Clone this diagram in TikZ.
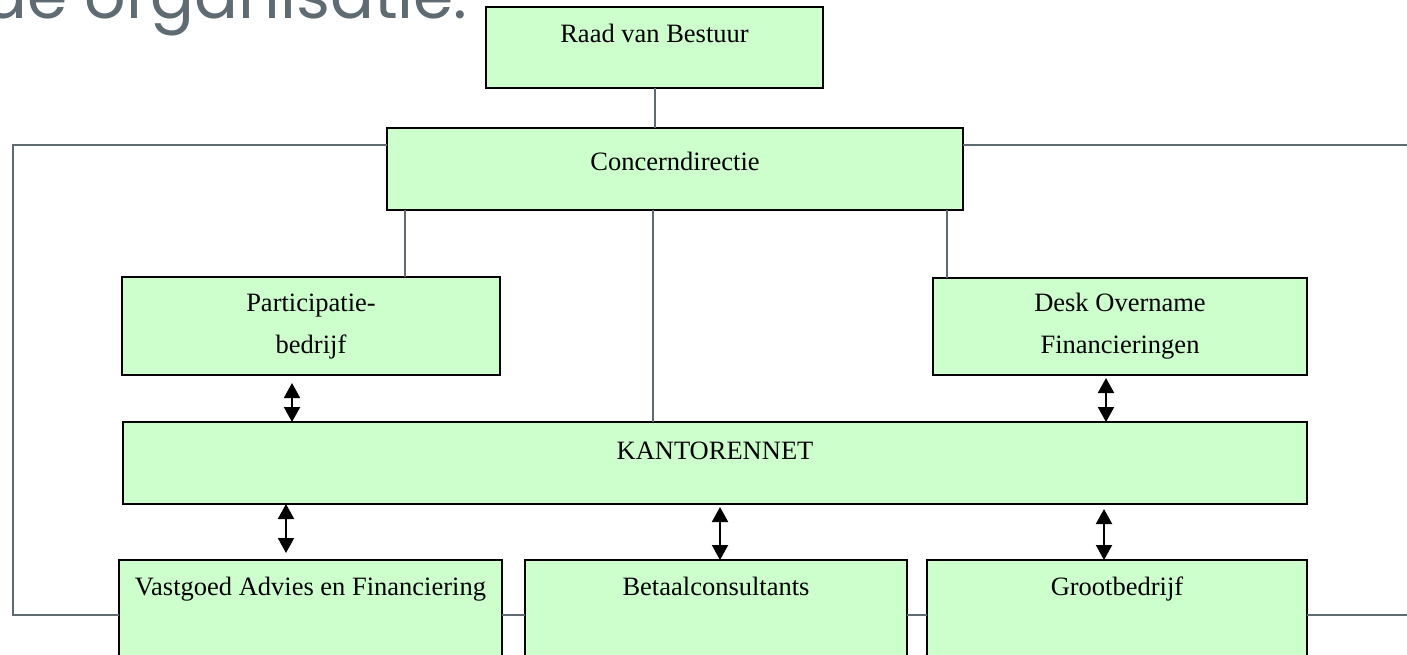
\documentclass[tikz,border=0pt]{standalone}
\usepackage{fontspec}
\setmainfont{Liberation Serif}
\newfontfamily\headfont{Poppins}
\usetikzlibrary{arrows.meta, positioning}
\definecolor{boxgreen}{HTML}{CCFFCC}
\definecolor{linkgray}{HTML}{5F6B73}

\begin{document}
\begin{tikzpicture}[
   x = 1pt, y = -1pt,
   box/.style = {draw, line width=2pt, fill=boxgreen, rectangle, anchor=north west, inner sep=0pt, outer sep=0pt},
   lbl/.style = {font=\fontsize{26.5}{42}\selectfont, align=center, inner sep=0pt, anchor=base},
   link/.style = {draw=linkgray, line width=2pt},
   biarrow/.style = {{Triangle[width=16pt,length=15pt]}-{Triangle[width=16pt,length=15pt]}, line width=2pt}]
   \clip (0,0) rectangle (1407,654);

   \node[anchor=base east, inner sep=0pt, text=linkgray, font=\headfont\fontsize{65}{65}\selectfont] (title) at (468,18) {de organisatie:};

   \node[box, minimum width=337pt, minimum height=81pt]  (raad)    at (486,7)   {};
   \node[box, minimum width=576pt, minimum height=82pt]  (concern) at (387,128) {};
   \node[box, minimum width=378pt, minimum height=98pt]  (partic)  at (122,277) {};
   \node[box, minimum width=374pt, minimum height=97pt]  (desk)    at (933,278) {};
   \node[box, minimum width=1184pt, minimum height=82pt] (kantor)  at (123,422) {};
   \node[box, minimum width=383pt, minimum height=110pt] (vast)    at (119,560) {};
   \node[box, minimum width=382pt, minimum height=110pt] (betaal)  at (525,560) {};
   \node[box, minimum width=380pt, minimum height=110pt] (groot)   at (927,560) {};

   \node[lbl] (raadtxt)    at ([yshift=-35pt]raad.north)    {Raad van Bestuur};
   \node[lbl] (concerntxt) at ([yshift=-42pt]concern.north) {Concerndirectie};
   \node[lbl] (partictxt)  at ([yshift=-76pt]partic.north)  {Participatie-\\bedrijf};
   \node[lbl] (desktxt)    at ([yshift=-75pt]desk.north)    {Desk Overname\\Financieringen};
   \node[lbl] (kantortxt)  at ([yshift=-37pt]kantor.north)  {KANTORENNET};
   \node[lbl] (vasttxt)    at ([yshift=-35pt]vast.north)    {Vastgoed Advies en Financiering};
   \node[lbl] (betaaltxt)  at ([yshift=-35pt]betaal.north)  {Betaalconsultants};
   \node[lbl] (groottxt)   at ([yshift=-35pt]groot.north)   {Grootbedrijf};

   \coordinate (leftrail)  at (13,0);
   \coordinate (rightedge) at (1410,0);

   % grey lines of the organisation
   \draw[link] (raad.south) -- (raad.south |- concern.north);
   \draw[link] ([xshift=18pt]concern.south west) -- ([xshift=18pt]concern.south west |- partic.north);
   \draw[link] ([xshift=266pt]concern.south west) -- ([xshift=266pt]concern.south west |- kantor.north);
   \draw[link] ([xshift=560pt]concern.south west) -- ([xshift=560pt]concern.south west |- desk.north);
   \draw[link] ([yshift=-17pt]concern.north west) -| (leftrail |- vast.west) -- (vast.west);
   \draw[link] ([yshift=-17pt]concern.north east) -- ([yshift=-17pt]concern.north east -| rightedge);
   \draw[link] (vast.east) -- (betaal.west);
   \draw[link] (betaal.east) -- (groot.west);
   \draw[link] (groot.east) -- (rightedge |- groot.east);

   % arrows to and from the kantorennet
   \draw[biarrow] ([shift={(170,8)}]partic.south west) -- ([xshift=170pt]partic.south west |- kantor.north);
   \draw[biarrow] ([shift={(173,3)}]desk.south west) -- ([xshift=173pt]desk.south west |- kantor.north);
   \draw[biarrow] ([xshift=167pt]vast.north west |- kantor.south) -- ([shift={(167,-7)}]vast.north west);
   \draw[biarrow] ([shift={(195,3)}]betaal.north west |- kantor.south) -- ([xshift=195pt]betaal.north west);
   \draw[biarrow] ([shift={(177,5)}]groot.north west |- kantor.south) -- ([xshift=177pt]groot.north west);
\end{tikzpicture}
\end{document}
